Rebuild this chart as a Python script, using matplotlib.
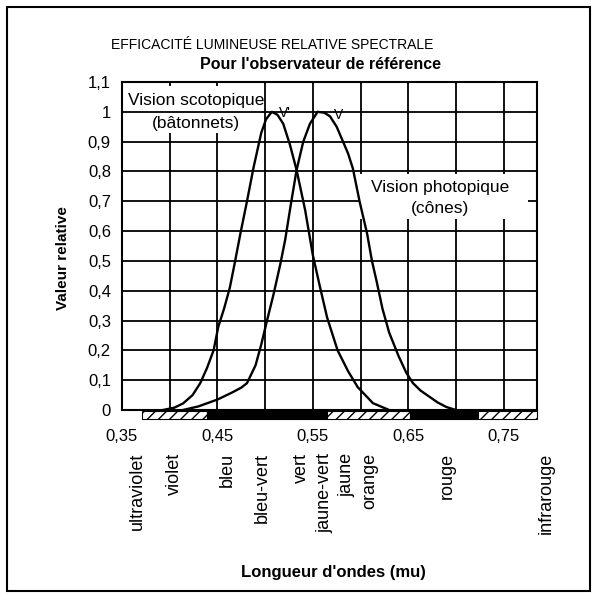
import numpy as np
import matplotlib
matplotlib.use("Agg")
import matplotlib.pyplot as plt
from matplotlib.patches import Rectangle
from matplotlib.ticker import FixedLocator

plt.rcParams['font.family'] = ['Liberation Sans', 'DejaVu Sans']

# scotopic curve V' (rods)
sco_x = [0.393, 0.405, 0.414, 0.424, 0.432, 0.439, 0.446, 0.451, 0.457, 0.463,
         0.468, 0.474, 0.481, 0.488, 0.496, 0.501, 0.507, 0.513, 0.519, 0.526,
         0.533, 0.542, 0.550, 0.557, 0.565, 0.576, 0.587, 0.597, 0.613, 0.630]
sco_y = [0.0, 0.008, 0.022, 0.05, 0.09, 0.14, 0.20, 0.28, 0.34, 0.41,
         0.49, 0.59, 0.70, 0.815, 0.93, 0.975, 1.0, 0.99, 0.96, 0.89,
         0.805, 0.67, 0.52, 0.42, 0.31, 0.20, 0.13, 0.077, 0.023, 0.0]

# photopic curve V (cones)
pho_x = [0.414, 0.430, 0.450, 0.465, 0.475, 0.481, 0.490, 0.496, 0.502, 0.509,
         0.516, 0.521, 0.527, 0.533, 0.540, 0.547, 0.555, 0.562, 0.568, 0.575,
         0.581, 0.587, 0.592, 0.599, 0.607, 0.612, 0.617, 0.623, 0.630, 0.640,
         0.648, 0.655, 0.663, 0.672, 0.681, 0.690, 0.700]
pho_y = [0.0, 0.012, 0.035, 0.058, 0.075, 0.09, 0.15, 0.22, 0.30, 0.39,
         0.49, 0.57, 0.69, 0.805, 0.90, 0.96, 1.0, 0.997, 0.985, 0.95,
         0.905, 0.86, 0.81, 0.70, 0.59, 0.50, 0.43, 0.34, 0.26, 0.18,
         0.125, 0.09, 0.065, 0.045, 0.025, 0.01, 0.0]

# spectrum band under the axis
band_edges = [0.371, 0.439, 0.565, 0.652, 0.723, 0.785]

# colour names along the wavelength axis
color_names = ['ultraviolet', 'violet', 'bleu', 'bleu-vert', 'vert',
               'jaune-vert', 'jaune', 'orange', 'rouge', 'infrarouge']
color_pos = [0.366, 0.405, 0.460, 0.497, 0.538, 0.563, 0.586, 0.610, 0.691, 0.795]

x_major = [0.35, 0.45, 0.55, 0.65, 0.75]
x_minor = [0.40, 0.50, 0.60, 0.70]
y_ticks = [0, 0.1, 0.2, 0.3, 0.4, 0.5, 0.6, 0.7, 0.8, 0.9, 1.0, 1.1]


def fr(v):
    s = f"{v:.2f}".rstrip('0').rstrip('.')
    return s.replace('.', ',')


fig = plt.figure(figsize=(5.96, 5.96), dpi=100)
ax = fig.add_axes([122 / 596, 186 / 596, 415 / 596, 328 / 596])
ax.set_xlim(0.35, 0.785)
ax.set_ylim(0, 1.1)

ax.set_xticks(x_major)
ax.set_xticklabels([fr(v) for v in x_major])
ax.xaxis.set_minor_locator(FixedLocator(x_minor))
ax.set_yticks(y_ticks)
ax.set_yticklabels([fr(v) for v in y_ticks])
ax.tick_params(axis='both', which='both', length=0, labelsize=12)
ax.tick_params(axis='x', pad=14)
ax.tick_params(axis='y', pad=8)
ax.grid(True, which='both', axis='x', color='black', lw=1.3)
ax.grid(True, which='major', axis='y', color='black', lw=1.3)
ax.set_axisbelow(True)
for sp in ax.spines.values():
    sp.set_linewidth(1.5)

# white boxes behind the annotations
ax.add_patch(Rectangle((0.35, 0.93), 0.147, 0.155, facecolor='white',
                       edgecolor='none', zorder=1.5))
ax.add_patch(Rectangle((0.598, 0.64), 0.178, 0.15, facecolor='white',
                       edgecolor='none', zorder=1.5))
ax.plot([0.35, 0.497], [1.0, 1.0], color='black', lw=1.3, zorder=1.6)

ax.plot(sco_x, sco_y, color='black', lw=1.7, zorder=3)
ax.plot(pho_x, pho_y, color='black', lw=1.7, zorder=3)

ax.text(0.356, 1.012, 'Vision scotopique', fontsize=12.5, va='bottom', zorder=4)
ax.text(0.428, 0.985, '(bâtonnets)', fontsize=12.5, ha='center', va='top', zorder=4)
ax.text(0.514, 0.995, "V'", fontsize=10, va='center', zorder=4)
ax.text(0.572, 0.99, "V", fontsize=10, va='center', zorder=4)
ax.text(0.683, 0.745, 'Vision photopique', fontsize=12.5, ha='center', va='center', zorder=4)
ax.text(0.683, 0.675, '(cônes)', fontsize=12.5, ha='center', va='center', zorder=4)

# spectrum band, hatched / solid alternately
tr = ax.get_xaxis_transform()
for i in range(len(band_edges) - 1):
    x0, x1 = band_edges[i], band_edges[i + 1]
    if i % 2 == 0:
        r = Rectangle((x0, -0.026), x1 - x0, 0.024, transform=tr, facecolor='white',
                      edgecolor='black', hatch='///', lw=0.8, clip_on=False)
    else:
        r = Rectangle((x0, -0.026), x1 - x0, 0.024, transform=tr, facecolor='black',
                      edgecolor='black', lw=0.8, clip_on=False)
    ax.add_patch(r)

for name, pos in zip(color_names, color_pos):
    ax.text(pos, -0.13, name, transform=tr, rotation=90, ha='center', va='top',
            fontsize=13, clip_on=False)

fig.text(0.456, 0.924, 'EFFICACITÉ LUMINEUSE RELATIVE SPECTRALE', fontsize=10,
         ha='center', va='center')
fig.text(0.537, 0.891, "Pour l'observateur de référence", fontsize=11.5,
         fontweight='bold', ha='center', va='center')
fig.text(0.559, 0.039, "Longueur d'ondes (mu)", fontsize=12, fontweight='bold',
         ha='center', va='center')
fig.text(0.106, 0.567, 'Valeur relative', fontsize=11, fontweight='bold',
         rotation=90, ha='center', va='center')

fig.patches.append(Rectangle((0.012, 0.008), 0.978, 0.98, transform=fig.transFigure,
                             fill=False, edgecolor='black', lw=1.5))

fig.savefig('out.png', dpi=100)
